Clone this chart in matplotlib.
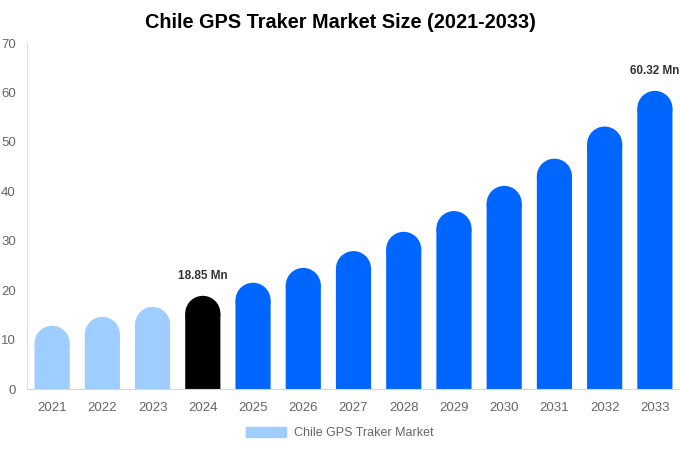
import matplotlib.pyplot as plt
from matplotlib.patches import Ellipse, Patch

plt.rcParams['font.family'] = ['Liberation Sans', 'DejaVu Sans']

years = ['2021', '2022', '2023', '2024', '2025', '2026', '2027',
         '2028', '2029', '2030', '2031', '2032', '2033']
values = [12.8, 14.6, 16.6, 18.85, 21.5, 24.5, 27.9, 31.8, 36.0, 41.1, 46.6, 53.1, 60.32]
labels = {3: '18.85 Mn', 12: '60.32 Mn'}

light = '#a0cdff'
blue = '#0066ff'
colors = [light] * 3 + ['#000000'] + [blue] * 9

fig = plt.figure(figsize=(6.8, 4.5), dpi=100)
ax = fig.add_axes([27 / 680, 61 / 450, 653 / 680, 346 / 450])
ax.set_xlim(-0.5, len(years) - 0.5)
ax.set_ylim(0, 70)

w = 0.7
# radius of the rounded cap in data units (vertical)
px_per_unit = 346 / 70
cap = (w / 2) * (653 / len(years)) / px_per_unit

x = range(len(years))
bars = ax.bar(x, [v - cap for v in values], width=w, color=colors, linewidth=0, zorder=2)
for b in bars:
    b.set_snap(False)
for i, v in enumerate(values):
    ax.add_patch(Ellipse((i, v - cap), w, 2 * cap, facecolor=colors[i], lw=0, zorder=2))
    if i in labels:
        ax.text(i, v + 2.8, labels[i], ha='center', va='bottom', fontsize=8.5,
                fontweight='bold', color='#333333')

ax.set_xticks(list(x))
ax.set_xticklabels(years)
ax.set_yticks(range(0, 71, 10))
ax.tick_params(length=0, labelsize=9.5, labelcolor='#666666')
ax.tick_params(axis='x', pad=9.5)
ax.tick_params(axis='y', pad=8)
for s in ['top', 'right']:
    ax.spines[s].set_visible(False)
ax.spines['left'].set_color('#e0e0e0')
ax.spines['bottom'].set_color('#d8d8d8')

fig.suptitle('Chile GPS Traker Market Size (2021-2033)', fontsize=14.3, fontweight='bold',
             y=0.972, x=0.5)
fig.legend(handles=[Patch(color=light, label='Chile GPS Traker Market')],
           loc='center', bbox_to_anchor=(0.5, 1 - 433 / 450), frameon=False,
           fontsize=9, labelcolor='#666666', handlelength=3.2, handleheight=0.9,
           handletextpad=0.6)

fig.savefig('out.png', dpi=100)
